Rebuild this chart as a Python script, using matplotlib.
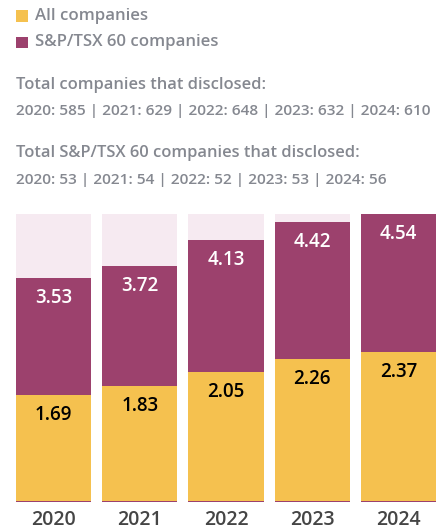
import matplotlib
matplotlib.use("Agg")
import matplotlib.pyplot as plt
from matplotlib.patches import Rectangle

years = ["2020", "2021", "2022", "2023", "2024"]
all_companies = [1.69, 1.83, 2.05, 2.26, 2.37]
tsx60 = [3.53, 3.72, 4.13, 4.42, 4.54]
total_disclosed = [585, 629, 648, 632, 610]
tsx60_disclosed = [53, 54, 52, 53, 56]

YELLOW = "#F5C14F"
PURPLE = "#9C416D"
PINK = "#F6EAF1"
GRAY = "#858890"
DARK = "#454545"

plt.rcParams['font.family'] = ['Open Sans', 'DejaVu Sans']

W, H = 440, 530
fig = plt.figure(figsize=(W / 100, H / 100), dpi=100)

def fy(y):
    return 1 - y / H

def fx(x):
    return x / W

# legend
fig.patches.append(Rectangle((fx(16), fy(22)), 12 / W, 12 / H, transform=fig.transFigure,
                             facecolor=YELLOW, edgecolor='none'))
fig.patches.append(Rectangle((fx(16), fy(48)), 12 / W, 11 / H, transform=fig.transFigure,
                             facecolor=PURPLE, edgecolor='none'))
fig.text(fx(35), fy(16), "All companies", color=GRAY, fontsize=12.1, va='center', ha='left',
         fontweight='semibold')
fig.text(fx(35), fy(42), "S&P/TSX 60 companies", color=GRAY, fontsize=12.1, va='center', ha='left',
         fontweight='semibold')

line1 = " | ".join(f"{y}: {v}" for y, v in zip(years, total_disclosed))
line2 = " | ".join(f"{y}: {v}" for y, v in zip(years, tsx60_disclosed))
fig.text(fx(16), fy(85), "Total companies that disclosed:", color=GRAY, fontsize=11.9,
         va='center', ha='left', fontweight='semibold')
fig.text(fx(16), fy(111), line1, color=GRAY, fontsize=11.1, va='center', ha='left',
         fontweight='semibold')
fig.text(fx(16), fy(153), "Total S&P/TSX 60 companies that disclosed:", color=GRAY, fontsize=11.9,
         va='center', ha='left', fontweight='semibold')
fig.text(fx(16), fy(180), line2, color=GRAY, fontsize=11.1, va='center', ha='left',
         fontweight='semibold')

# axes
ax_left, ax_right = 16, 436
ax_top, ax_bottom = 214, 502
ax = fig.add_axes([fx(ax_left), fy(ax_bottom), (ax_right - ax_left) / W, (ax_bottom - ax_top) / H])
x = list(range(len(years)))
bw = 0.872
ymax = max(tsx60)
px_per_unit = (ax_bottom - ax_top) / ymax
edge = 1.3 / px_per_unit
ax.bar(x, [ymax] * len(x), width=bw, color=PINK, zorder=1)
ax.bar(x, tsx60, width=bw, color=PURPLE, zorder=2)
ax.bar(x, [a - edge for a in all_companies], bottom=edge, width=bw, color=YELLOW, zorder=3)
ax.set_xlim(-bw / 2, len(x) - 1 + bw / 2)
ax.set_ylim(0, ymax)
ax.axis('off')

off = 20 / px_per_unit
for xi, a, t in zip(x, all_companies, tsx60):
    ax.text(xi, t - off, f"{t:.2f}", color='white', ha='center', va='center', fontsize=13.5,
            fontweight='semibold', zorder=5)
    ax.text(xi, a - off, f"{a:.2f}", color='black', ha='center', va='center', fontsize=13.5,
            fontweight='semibold', zorder=5)
    ax.text(xi, -18 / px_per_unit, years[xi], color=DARK, ha='center', va='center', fontsize=14,
            fontweight='semibold', zorder=5, clip_on=False)

fig.savefig("out.png", dpi=100)
